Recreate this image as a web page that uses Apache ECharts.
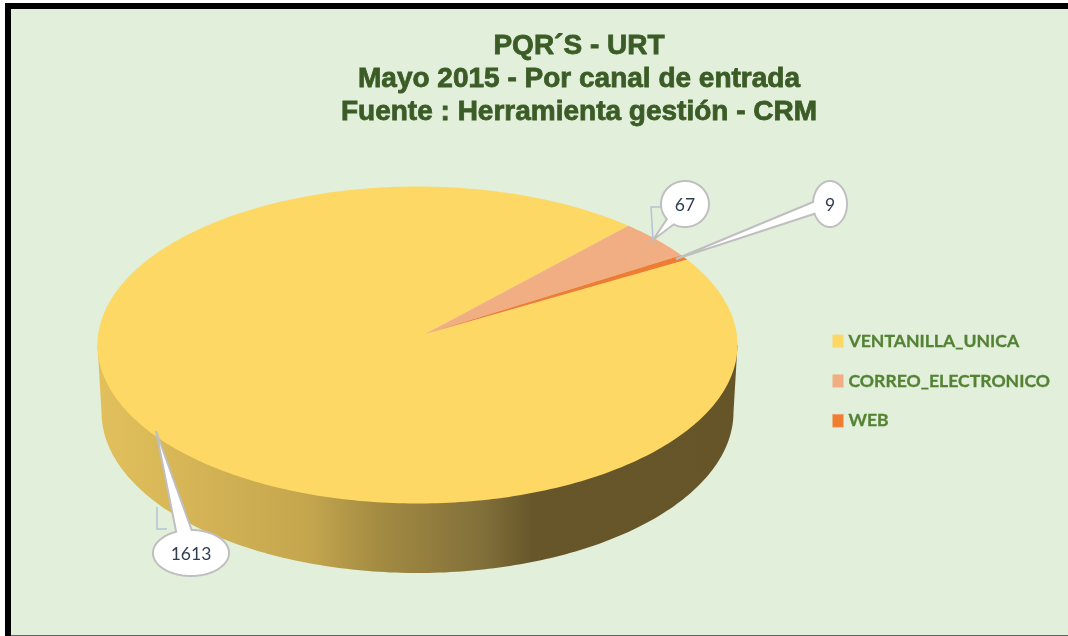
<!DOCTYPE html>
<html>
<head>
<meta charset="utf-8">
<title>PQR'S - URT</title>
<script src="https://cdn.jsdelivr.net/npm/echarts@6/dist/echarts.min.js"></script>
<style>
  html, body { margin: 0; padding: 0; background: #fff; }
  #main { width: 1068px; height: 636px; }
</style>
</head>
<body>
<div id="main"></div>
<script>
var categories = ['VENTANILLA_UNICA', 'CORREO_ELECTRONICO', 'WEB'];
var values = [1613, 67, 9];
var sliceColors = ['#fdd864', '#f2ae83', '#ee7d31'];
var titleLines = ['PQR´S - URT', 'Mayo 2015 - Por canal de entrada', 'Fuente : Herramienta gestión - CRM'];

// tilted disc
var disc = { cx: 417.5, cy: 345, rx: 320, ry: 158.5, apexX: 425, apexY: 334 };
var base = { cx: 417.5, cy: 412, rx: 316, ry: 161 };
var firstAngle = 57.4; // degrees clockwise from 12 o'clock

// callouts: ellipse, wedge base angles on it, wedge tip and the thin leader
var callouts = [
  { x: 191, y: 553, rx: 38, ry: 23, tip: [156, 431], from: 339, to: 361, leader: [[157, 507], [157, 529], [167, 529]] },
  { x: 685, y: 204, rx: 24, ry: 23, tip: [653, 240], from: 209, to: 229, leader: [[662, 207], [651, 207], [653, 240]] },
  { x: 830, y: 204, rx: 17, ry: 23, tip: [676, 259], from: 247, to: 275, leader: [[811, 206], [802, 207], [676, 259]] }
];

var total = 0;
for (var i = 0; i < values.length; i++) { total += values[i]; }

function rimPoint(e, deg) {
  var a = deg * Math.PI / 180;
  return [e.cx + e.rx * Math.sin(a), e.cy - e.ry * Math.cos(a)];
}

function slicePoints(start, end) {
  var pts = [[disc.apexX, disc.apexY]];
  for (var d = start; d < end; d += 1) {
    pts.push(rimPoint(disc, d));
  }
  pts.push(rimPoint(disc, end));
  return pts;
}

function wallPoints() {
  var pts = [[disc.cx + disc.rx, disc.cy]];
  for (var d = 90; d <= 270; d += 1) {
    pts.push(rimPoint(base, d));
  }
  pts.push([disc.cx - disc.rx, disc.cy]);
  return pts;
}

function calloutPoints(c) {
  // from/to are degrees clockwise from 12 o'clock, the wedge sits between them
  var pts = [c.tip];
  for (var d = c.to; d <= c.from + 360; d += 3) {
    var a = d * Math.PI / 180;
    pts.push([c.x + c.rx * Math.sin(a), c.y - c.ry * Math.cos(a)]);
  }
  return pts;
}

function renderSlice(params, api) {
  var idx = params.seriesIndex;
  var before = 0;
  for (var i = 0; i < idx; i++) { before += values[i]; }
  var value = api.value(0);
  var start = firstAngle + before / total * 360;
  var end = start + value / total * 360;
  var children = [];

  if (idx === 0) {
    children.push({
      type: 'polygon',
      shape: { points: wallPoints() },
      style: {
        fill: new echarts.graphic.LinearGradient(97, 0, 738, 0, [
          { offset: 0, color: '#e2c05c' },
          { offset: 0.33, color: '#c4a64e' },
          { offset: 0.44, color: '#a38b42' },
          { offset: 0.6, color: '#82703a' },
          { offset: 0.68, color: '#67562a' },
          { offset: 1, color: '#665528' }
        ], true)
      }
    });
  }

  children.push({
    type: 'polygon',
    shape: { points: slicePoints(start, end) },
    style: { fill: sliceColors[idx] }
  });

  var c = callouts[idx];
  children.push({
    type: 'polyline',
    z2: 10,
    shape: { points: c.leader },
    style: { fill: 'none', stroke: '#b6c2d4', lineWidth: 1.5 }
  });
  children.push({
    type: 'polygon',
    z2: 11,
    shape: { points: calloutPoints(c) },
    style: { fill: '#fff', stroke: '#bfbfbf', lineWidth: 2 }
  });
  children.push({
    type: 'text',
    z2: 12,
    style: {
      x: c.x,
      y: c.y + 1,
      text: String(value),
      fill: '#2f3d52',
      font: '17.5px Lato',
      textAlign: 'center',
      textVerticalAlign: 'middle'
    }
  });
  return { type: 'group', children: children };
}

var seriesList = [];
for (var s = 0; s < categories.length; s++) {
  seriesList.push({
    type: 'custom',
    name: categories[s],
    coordinateSystem: 'none',
    silent: true,
    animation: false,
    itemStyle: { color: sliceColors[s] },
    renderItem: renderSlice,
    data: [[values[s]]]
  });
}

var myChart = echarts.init(document.getElementById('main'), null, { renderer: 'canvas' });
myChart.setOption({
  animation: false,
  backgroundColor: '#fff',
  title: {
    text: titleLines.join('\n'),
    left: 574,
    top: 25,
    textAlign: 'center',
    textStyle: {
      fontFamily: 'Liberation Sans',
      fontWeight: 'bold',
      fontSize: 28,
      lineHeight: 33,
      color: '#3b5c26',
      textBorderColor: '#3b5c26',
      textBorderWidth: 0.8
    }
  },
  legend: {
    orient: 'vertical',
    left: 827,
    top: 327,
    itemWidth: 11,
    itemHeight: 13,
    itemGap: 21.5,
    icon: 'rect',
    selectedMode: false,
    textStyle: {
      fontFamily: 'Lato',
      fontWeight: 'bold',
      fontSize: 17.6,
      color: '#548235',
      textBorderColor: '#548235',
      textBorderWidth: 0.3
    },
    data: [
      { name: categories[0], itemStyle: { color: sliceColors[0] } },
      { name: categories[1], itemStyle: { color: sliceColors[1] } },
      { name: categories[2], itemStyle: { color: sliceColors[2], borderColor: '#f4b183', borderWidth: 1, borderType: 'dotted' } }
    ]
  },
  graphic: [
    { type: 'rect', silent: true, z: -5, shape: { x: 5, y: 3, width: 1063, height: 633 }, style: { fill: '#000' } },
    { type: 'rect', silent: true, z: -4, shape: { x: 11, y: 9, width: 1057, height: 626 }, style: { fill: '#e2efda' } },
    { type: 'rect', silent: true, z: -4, shape: { x: 11, y: 635, width: 1057, height: 1 }, style: { fill: '#5b6078' } }
  ],
  series: seriesList
});
</script>
</body>
</html>
